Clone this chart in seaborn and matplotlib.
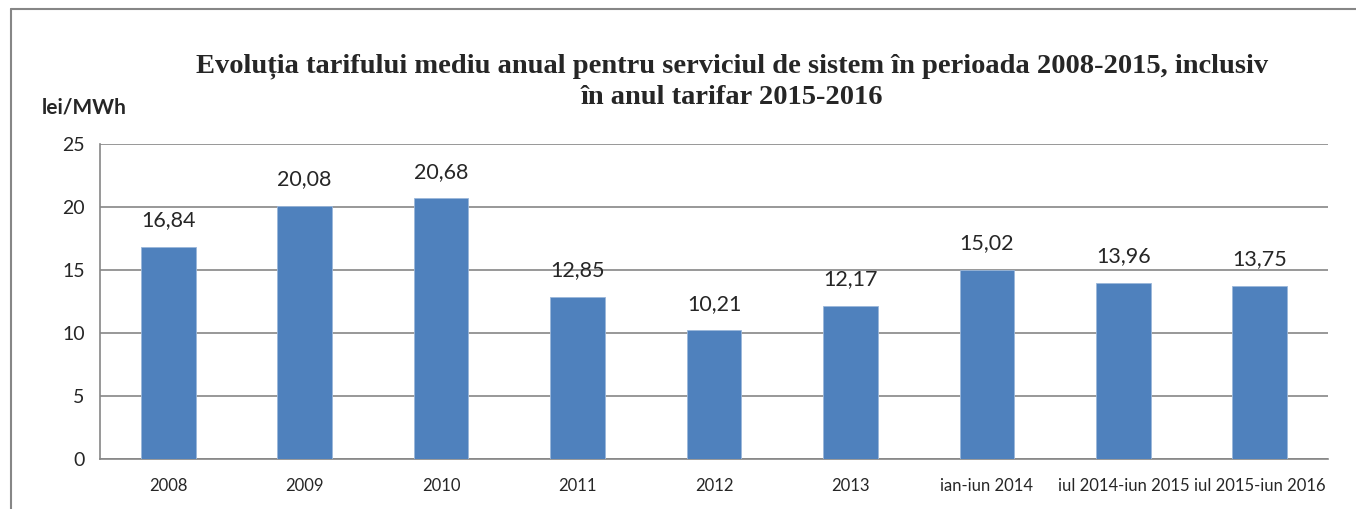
import numpy as np
import pandas as pd
import seaborn as sns
from matplotlib import pyplot as plt
from matplotlib.lines import Line2D

categories = ["2008", "2009", "2010", "2011", "2012", "2013",
              "ian-iun 2014", "iul 2014-iun 2015", "iul 2015-iun 2016"]
values = [16.84, 20.08, 20.68, 12.85, 10.21, 12.17, 15.02, 13.96, 13.75]
y_ticks = [0, 5, 10, 15, 20, 25]

sns.set_theme(style="white")
plt.rcParams["font.family"] = ["Lato", "DejaVu Sans"]

df = pd.DataFrame({"perioada": categories, "tarif": values})

fig = plt.figure(figsize=(13.56, 5.09), dpi=100)
ax = fig.add_axes([100 / 1356, 1 - 459 / 509, 1228 / 1356, 315 / 509])

sns.barplot(data=df, x="perioada", y="tarif", color="#4F81BD", saturation=1,
            width=0.4, edgecolor="#9BB7DA", linewidth=0.6, ax=ax, zorder=3)

ax.set_ylim(0, 25)
ax.set_xlim(-0.5, len(categories) - 0.5)
ax.set_yticks(y_ticks)
ax.set_yticklabels([str(t) for t in y_ticks], fontsize=14)
ax.grid(axis="y", color="#868686", linewidth=1.2, zorder=0)
ax.set_axisbelow(True)

# Excel-style x ticks at category boundaries
ax.set_xticks(np.arange(len(categories)))
ax.set_xticklabels(categories, fontsize=12)
ax.tick_params(axis="x", length=0, pad=14)
ax.set_xticks(np.arange(-0.5, len(categories)), minor=True)
ax.tick_params(axis="x", which="minor", length=6, width=1.2, color="#868686", direction="out")
ax.tick_params(axis="y", length=6, width=1.2, color="#868686", direction="out", pad=5)

for s in ["top", "right"]:
    ax.spines[s].set_visible(False)
for s in ["left", "bottom"]:
    ax.spines[s].set_color("#868686")
    ax.spines[s].set_linewidth(1.2)

ax.set_xlabel("")
ax.set_ylabel("")

labels = [f"{v:.2f}".replace(".", ",") for v in values]
ax.bar_label(ax.containers[0], labels=labels, padding=12, fontsize=15.5)

fig.text(732 / 1356, 1 - 82 / 509,
         "Evoluția tarifului mediu anual pentru serviciul de sistem în perioada 2008-2015, inclusiv\nîn anul tarifar 2015-2016",
         ha="center", va="center", fontsize=20.5, fontweight="bold",
         family=["Liberation Serif", "DejaVu Serif"], linespacing=1.3)
fig.text(42 / 1356, 1 - 107 / 509, "lei/MWh", ha="left", va="center",
         fontsize=15, fontweight="bold")

# chart border (left and top edges visible)
fig.add_artist(Line2D([11 / 1356, 11 / 1356], [0, 1 - 9 / 509], transform=fig.transFigure,
                      color="#868686", linewidth=1.5))
fig.add_artist(Line2D([11 / 1356, 1], [1 - 9 / 509, 1 - 9 / 509], transform=fig.transFigure,
                      color="#868686", linewidth=1.5))

fig.savefig("out.png", dpi=100)
